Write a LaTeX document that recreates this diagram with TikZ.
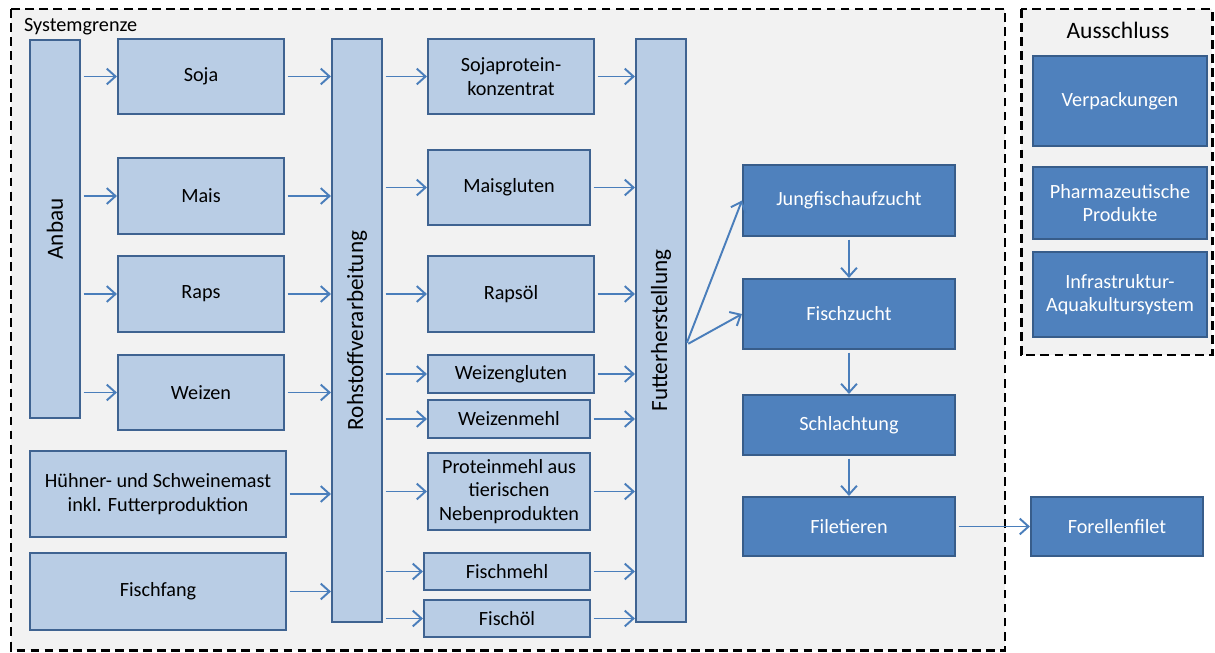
\documentclass[tikz,border=0pt]{standalone}
\usepackage{fontspec}
\setmainfont{Carlito}
\usetikzlibrary{arrows.meta}
\definecolor{hellblau}{HTML}{B9CDE5}
\definecolor{randblau}{HTML}{3F6391}
\definecolor{dunkelblau}{HTML}{4F81BD}
\definecolor{dunkelrand}{HTML}{385D8A}
\definecolor{pfeilblau}{HTML}{4A7EBB}
\definecolor{grenzgrau}{HTML}{F2F2F2}
\begin{document}
\begin{tikzpicture}[x=0.02cm, y=-0.02cm,
  hell/.style={draw=randblau, fill=hellblau, line width=1.2pt, align=center, font=\fontsize{11.5}{13.5}\selectfont},
  dunkel/.style={draw=dunkelrand, fill=dunkelblau, text=white, line width=1.2pt, align=center, font=\fontsize{11.5}{13.5}\selectfont},
  pfeil/.style={draw=pfeilblau, line width=1.1pt, -{Straight Barb[length=5pt, width=9pt]}, shorten <=1.5pt},
  grenze/.style={draw=black, fill=grenzgrau, line width=1.7pt, dash pattern=on 5pt off 3pt}]
  \useasboundingbox (0,0) rectangle (1215,653);
  \draw[grenze] (11,9) rectangle (1005,650);
  \draw[grenze] (1021,9) rectangle (1212,355);
  \node[anchor=west, font=\fontsize{11.5}{13}\selectfont] (sysgr) at (18,27) {Systemgrenze};
  \node[font=\fontsize{13.4}{15}\selectfont] (aus) at (1118,30) {Ausschluss};

  \node[hell, minimum width=1cm, minimum height=7.56cm] (anbau) at (55,229) {\rotatebox{90}{\fontsize{13.2}{15}\selectfont Anbau}};
  \node[hell, minimum width=3.32cm, minimum height=1.5cm] (soja) at (201,76.5) {Soja};
  \node[hell, minimum width=3.32cm, minimum height=1.52cm] (mais) at (201,196) {Mais};
  \node[hell, minimum width=3.32cm, minimum height=1.52cm] (raps) at (201,294) {Raps};
  \node[hell, minimum width=3.32cm, minimum height=1.5cm] (weizen) at (201,392.5) {Weizen};
  \node[hell, minimum width=5.12cm, minimum height=1.72cm] (huehner) at (158,494) {Hühner- und Schweinemast\\inkl. Futterproduktion};
  \node[hell, minimum width=5.12cm, minimum height=1.54cm] (fang) at (158,591.5) {Fischfang};

  \node[hell, minimum width=1cm, minimum height=11.66cm] (rohstoff) at (357,330.5) {\rotatebox{90}{\fontsize{13.2}{15}\selectfont Rohstoffverarbeitung}};

  \node[hell, minimum width=3.32cm, minimum height=1.5cm] (sojakonz) at (511,76.5) {Sojaprotein-\\konzentrat};
  \node[hell, minimum width=3.24cm, minimum height=1.5cm] (maisgl) at (509,187.5) {Maisgluten};
  \node[hell, minimum width=3.32cm, minimum height=1.52cm] (rapsoel) at (511,294) {Rapsöl};
  \node[hell, minimum width=3.32cm, minimum height=0.76cm] (weizengl) at (511,374) {Weizengluten};
  \node[hell, minimum width=3.24cm, minimum height=0.76cm] (weizenm) at (509,419) {Weizenmehl};
  \node[hell, minimum width=3.24cm, minimum height=1.54cm, inner sep=1pt] (protein) at (509,491.5) {Proteinmehl aus\\tierischen\\Nebenprodukten};
  \node[hell, minimum width=3.32cm, minimum height=0.74cm] (fischmehl) at (507,571.5) {Fischmehl};
  \node[hell, minimum width=3.32cm, minimum height=0.74cm] (fischoel) at (507,618.5) {Fischöl};

  \node[hell, minimum width=1cm, minimum height=11.66cm] (futter) at (661,330.5) {\rotatebox{90}{\fontsize{13.2}{15}\selectfont Futterherstellung}};

  \node[dunkel, minimum width=4.24cm, minimum height=1.42cm] (jung) at (849,200.5) {Jungfischaufzucht};
  \node[dunkel, minimum width=4.24cm, minimum height=1.4cm] (zucht) at (849,314) {Fischzucht};
  \node[dunkel, minimum width=4.24cm, minimum height=1.2cm] (schlacht) at (849,425) {Schlachtung};
  \node[dunkel, minimum width=4.24cm, minimum height=1.18cm] (filet) at (849,526.5) {Filetieren};
  \node[dunkel, minimum width=3.44cm, minimum height=1.18cm] (forelle) at (1117,526.5) {Forellenfilet};

  \node[dunkel, minimum width=3.48cm, minimum height=1.8cm] (verpack) at (1120,101) {Verpackungen};
  \node[dunkel, minimum width=3.48cm, minimum height=1.44cm] (pharma) at (1120,203) {Pharmazeutische\\Produkte};
  \node[dunkel, minimum width=3.48cm, minimum height=1.7cm] (infra) at (1120,294.5) {Infrastruktur-\\Aquakultursystem};

  \coordinate (fabzw) at (686,345);

  \foreach \z in {soja, mais, raps, weizen}
    \draw[pfeil] (anbau.east |- \z.west) -- (\z.west);
  \foreach \q in {soja, mais, raps, weizen, huehner, fang}
    \draw[pfeil] (\q.east) -- (rohstoff.west |- \q.east);
  \foreach \p in {sojakonz, maisgl, rapsoel, weizengl, weizenm, protein, fischmehl, fischoel} {
    \draw[pfeil] (rohstoff.east |- \p.west) -- (\p.west);
    \draw[pfeil] (\p.east) -- (futter.west |- \p.east);
  }
  \draw[pfeil] (fabzw) -- (jung.west);
  \draw[pfeil] (fabzw) -- (zucht.west);
  \draw[pfeil] (jung) -- (zucht);
  \draw[pfeil] (zucht) -- (schlacht);
  \draw[pfeil] (schlacht) -- (filet);
  \draw[pfeil] (filet) -- (forelle);
\end{tikzpicture}
\end{document}
